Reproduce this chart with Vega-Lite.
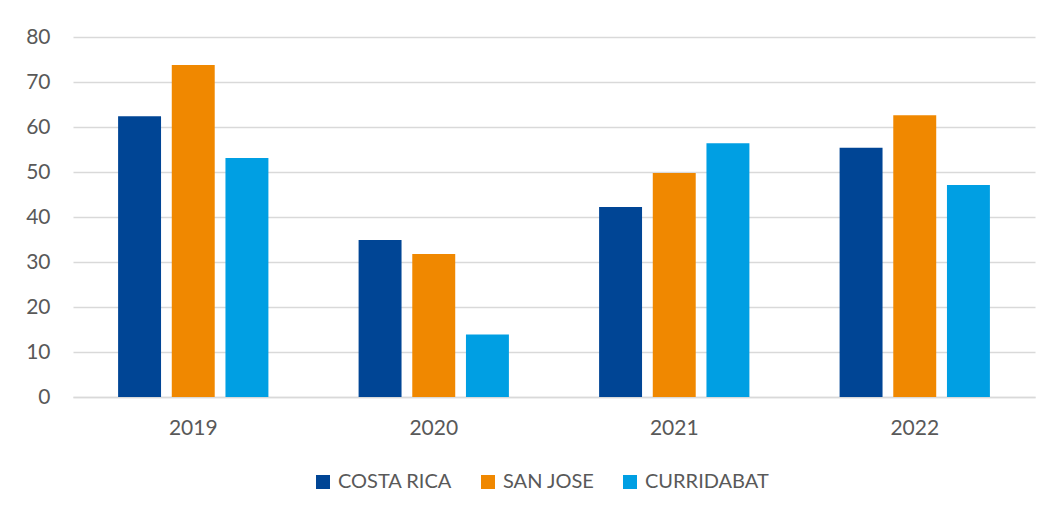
{
  "$schema": "https://vega.github.io/schema/vega-lite/v6.json",
  "width": 962,
  "height": 360,
  "autosize": "none",
  "padding": {"left": 73, "top": 37, "right": 17, "bottom": 115},
  "background": "white",
  "data": {
    "values": [
      {"year": "2019", "region": "COSTA RICA", "value": 62.4},
      {"year": "2019", "region": "SAN JOSE", "value": 73.8},
      {"year": "2019", "region": "CURRIDABAT", "value": 53.1},
      {"year": "2020", "region": "COSTA RICA", "value": 34.9},
      {"year": "2020", "region": "SAN JOSE", "value": 31.8},
      {"year": "2020", "region": "CURRIDABAT", "value": 13.9},
      {"year": "2021", "region": "COSTA RICA", "value": 42.2},
      {"year": "2021", "region": "SAN JOSE", "value": 49.8},
      {"year": "2021", "region": "CURRIDABAT", "value": 56.4},
      {"year": "2022", "region": "COSTA RICA", "value": 55.4},
      {"year": "2022", "region": "SAN JOSE", "value": 62.6},
      {"year": "2022", "region": "CURRIDABAT", "value": 47.1}
    ]
  },
  "mark": {"type": "bar"},
  "encoding": {
    "x": {
      "field": "year", "type": "nominal",
      "scale": {"paddingInner": 0.375, "paddingOuter": 0.1875},
      "axis": {"title": null, "labelAngle": 0, "ticks": false, "domainColor": "#D9D9D9", "domainWidth": 1.5, "labelPadding": 20, "labelFontSize": 21, "labelColor": "#595959", "labelFont": "Lato"}
    },
    "xOffset": {
      "field": "region", "type": "nominal",
      "sort": ["COSTA RICA", "SAN JOSE", "CURRIDABAT"],
      "scale": {"paddingInner": 0.2, "paddingOuter": 0}
    },
    "y": {
      "field": "value", "type": "quantitative",
      "scale": {"domain": [0, 80]},
      "axis": {"title": null, "values": [0,10,20,30,40,50,60,70,80], "labelOverlap": false, "domain": false, "ticks": false, "gridColor": "#D9D9D9", "gridWidth": 1.5, "labelPadding": 23, "labelFontSize": 21, "labelColor": "#595959", "labelFont": "Lato"}
    },
    "color": {
      "field": "region", "type": "nominal",
      "sort": ["COSTA RICA", "SAN JOSE", "CURRIDABAT"],
      "scale": {"domain": ["COSTA RICA", "SAN JOSE", "CURRIDABAT"], "range": ["#004595", "#F08800", "#009FE3"]},
      "legend": {"title": null, "orient": "none", "legendX": 240, "legendY": 435, "direction": "horizontal", "symbolType": "square", "symbolSize": 196, "symbolStrokeWidth": 0, "labelOffset": 5, "labelFontSize": 20, "labelColor": "#595959", "labelFont": "Lato", "columnPadding": 25}
    }
  },
  "config": {"view": {"stroke": null}}
}
